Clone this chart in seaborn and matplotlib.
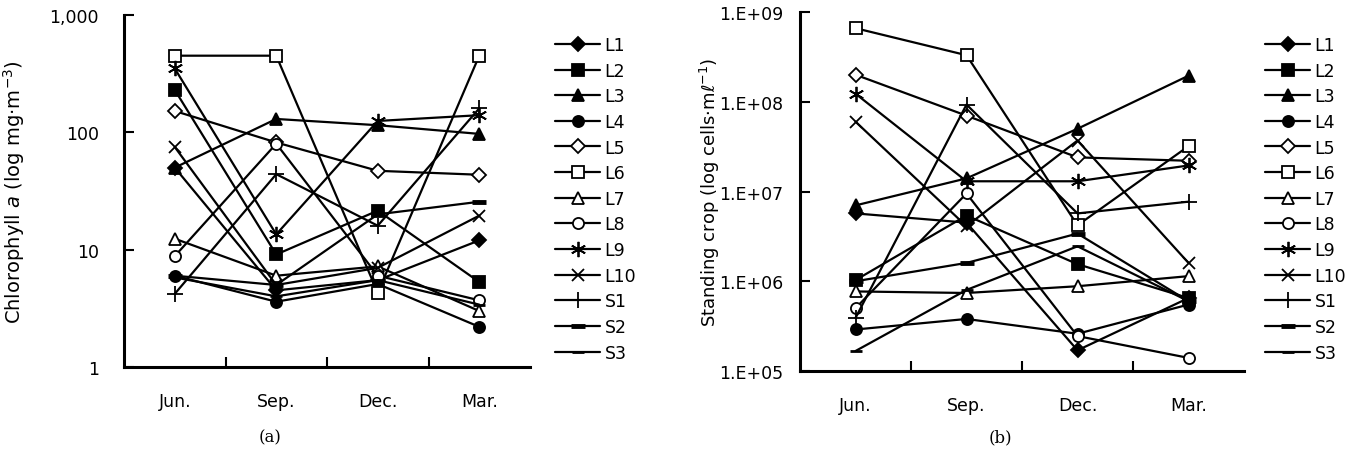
import numpy as np
import pandas as pd
import matplotlib
matplotlib.use("Agg")
import matplotlib.pyplot as plt
import seaborn as sns
from matplotlib.ticker import FixedLocator, NullFormatter

# ---------------- data ----------------
months = ["Jun.", "Sep.", "Dec.", "Mar."]
series = ["L1", "L2", "L3", "L4", "L5", "L6", "L7", "L8", "L9", "L10", "S1", "S2", "S3"]

# (a) Chlorophyll a (mg m^-3)
chl_L1 = [50, 4.5, 5.5, 12]
chl_L2 = [230, 9.1, 21.5, 5.3]
chl_L3 = [50, 130, 115, 97]
chl_L4 = [6.0, 3.6, 5.1, 2.2]
chl_L5 = [152, 82, 47, 43.5]
chl_L6 = [450, 450, 4.3, 450]
chl_L7 = [12.4, 6.0, 7.2, 3.0]
chl_L8 = [8.8, 80, 6.0, 3.7]
chl_L9 = [350, 13.5, 125, 140]
chl_L10 = [75, 5.0, 7.0, 19.5]
chl_S1 = [4.2, 44, 16, 160]
chl_S2 = [6.0, 5.0, 20, 25.6]
chl_S3 = [5.8, 4.0, 5.5, 3.4]

# (b) Standing crop (cells ml^-1)
sc_L1 = [5.7e6, 4.5e6, 1.7e5, 6.5e5]
sc_L2 = [1.03e6, 5.4e6, 1.55e6, 6.5e5]
sc_L3 = [7.0e6, 1.4e7, 5.0e7, 1.95e8]
sc_L4 = [2.9e5, 3.8e5, 2.6e5, 5.5e5]
sc_L5 = [2.0e8, 7.0e7, 2.4e7, 2.2e7]
sc_L6 = [6.6e8, 3.3e8, 4.2e6, 3.2e7]
sc_L7 = [7.7e5, 7.4e5, 8.8e5, 1.14e6]
sc_L8 = [5.0e5, 9.5e6, 2.45e5, 1.4e5]
sc_L9 = [1.23e8, 1.3e7, 1.3e7, 1.95e7]
sc_L10 = [6.0e7, 4.1e6, 3.7e7, 1.6e6]
sc_S1 = [3.9e5, 9.3e7, 5.7e6, 7.7e6]
sc_S2 = [1.0e6, 1.6e6, 3.4e6, 6.0e5]
sc_S3 = [1.67e5, 8.0e5, 2.45e6, 6.0e5]

chl_ticks = [1, 10, 100, 1000]
chl_ticklabels = ["1", "10", "100", "1,000"]
sc_ticks = [1e5, 1e6, 1e7, 1e8, 1e9]
sc_ticklabels = ["1.E+05", "1.E+06", "1.E+07", "1.E+08", "1.E+09"]

chl = {"L1": chl_L1, "L2": chl_L2, "L3": chl_L3, "L4": chl_L4, "L5": chl_L5,
       "L6": chl_L6, "L7": chl_L7, "L8": chl_L8, "L9": chl_L9, "L10": chl_L10,
       "S1": chl_S1, "S2": chl_S2, "S3": chl_S3}
sc = {"L1": sc_L1, "L2": sc_L2, "L3": sc_L3, "L4": sc_L4, "L5": sc_L5,
      "L6": sc_L6, "L7": sc_L7, "L8": sc_L8, "L9": sc_L9, "L10": sc_L10,
      "S1": sc_S1, "S2": sc_S2, "S3": sc_S3}

# ---------------- styles ----------------
sty = {
    "L1": dict(marker="D", mfc="black", ms=7, mew=1.3),
    "L2": dict(marker="s", mfc="black", ms=8, mew=1.3),
    "L3": dict(marker="^", mfc="black", ms=9, mew=1.3),
    "L4": dict(marker="o", mfc="black", ms=8, mew=1.3),
    "L5": dict(marker="D", mfc="white", ms=7, mew=1.3),
    "L6": dict(marker="s", mfc="white", ms=9, mew=1.3),
    "L7": dict(marker="^", mfc="white", ms=9, mew=1.3),
    "L8": dict(marker="o", mfc="white", ms=8, mew=1.3),
    "L9": dict(marker=(6, 2, 0), mfc="black", ms=11, mew=1.3),
    "L10": dict(marker="x", mfc="black", ms=9, mew=1.3),
    "S1": dict(marker="+", mfc="black", ms=11, mew=1.3),
    "S2": dict(marker="_", mfc="black", ms=10, mew=3.5),
    "S3": dict(marker="_", mfc="black", ms=8, mew=2.0),
}

sns.set_theme(style="ticks")
plt.rcParams["font.family"] = ["DejaVu Sans"]
plt.rcParams["text.color"] = "black"
plt.rcParams["axes.labelcolor"] = "black"
plt.rcParams["xtick.color"] = "black"
plt.rcParams["ytick.color"] = "black"
plt.rcParams["axes.edgecolor"] = "black"

FS = 12.5

fig = plt.figure(figsize=(13.51, 4.56), dpi=100)
axA = fig.add_axes([124 / 1351, 1 - 368 / 456, 406 / 1351, 352 / 456])
axB = fig.add_axes([800 / 1351, 1 - 372 / 456, 444 / 1351, 359 / 456])


def draw(ax, data, ylim, ticks, ticklabels, ylabel, ylfs, ypad, legx):
    for s in series:
        df = pd.DataFrame({"month": months, "value": data[s]})
        st = sty[s]
        sns.lineplot(data=df, x="month", y="value", ax=ax, sort=False,
                     color="black", linewidth=1.6, marker=st["marker"],
                     markersize=st["ms"], markerfacecolor=st["mfc"],
                     markeredgecolor="black", markeredgewidth=st["mew"],
                     label=s)
    ax.set_yscale("log")
    ax.set_ylim(*ylim)
    ax.set_xlim(-0.5, 3.5)
    ax.yaxis.set_major_locator(FixedLocator(ticks))
    ax.set_yticklabels(ticklabels)
    ax.yaxis.set_minor_locator(FixedLocator([]))
    ax.xaxis.set_major_locator(FixedLocator([0.5, 1.5, 2.5]))
    ax.xaxis.set_major_formatter(NullFormatter())
    ax.xaxis.set_minor_locator(FixedLocator([0, 1, 2, 3]))
    ax.set_xticklabels(months, minor=True)
    ax.tick_params(axis="x", which="major", direction="in", length=7, width=1.5,
                   color="black")
    ax.tick_params(axis="x", which="minor", length=0, pad=18, labelsize=FS,
                   labelcolor="black")
    ax.tick_params(axis="y", which="major", direction="in", length=7, width=1.5,
                   pad=ypad, labelsize=FS, color="black", labelcolor="black")
    for sp in ["top", "right"]:
        ax.spines[sp].set_visible(False)
    for sp in ["left", "bottom"]:
        ax.spines[sp].set_linewidth(2.2)
        ax.spines[sp].set_color("black")
    ax.set_xlabel("")
    ax.set_ylabel(ylabel, fontsize=ylfs, color="black")
    ax.legend(loc="upper left", bbox_to_anchor=(legx, 1 - 37 / 456),
              bbox_transform=fig.transFigure, frameon=False,
              fontsize=FS, handlelength=2.6, handletextpad=0.25,
              labelspacing=0.44, borderaxespad=0, borderpad=0)


draw(axA, chl, (1, 1000), chl_ticks, chl_ticklabels,
     "Chlorophyll $\\it{a}$ (log mg·m$^{-3}$)", 14, 18, 555 / 1351)
draw(axB, sc, (1e5, 1e9), sc_ticks, sc_ticklabels,
     "Standing crop (log cells·mℓ$^{-1}$)", 13, 12, 1265 / 1351)
axA.yaxis.set_label_coords((27 - 124) / 406, 0.5)
axB.yaxis.set_label_coords((722 - 800) / 444, 0.5)

fig.text(270 / 1351, 1 - 438 / 456, "(a)", ha="center", va="center",
         fontsize=12, family="DejaVu Serif")
fig.text(1000 / 1351, 1 - 438 / 456, "(b)", ha="center", va="center",
         fontsize=12, family="DejaVu Serif")

fig.savefig("out.png", dpi=100)
